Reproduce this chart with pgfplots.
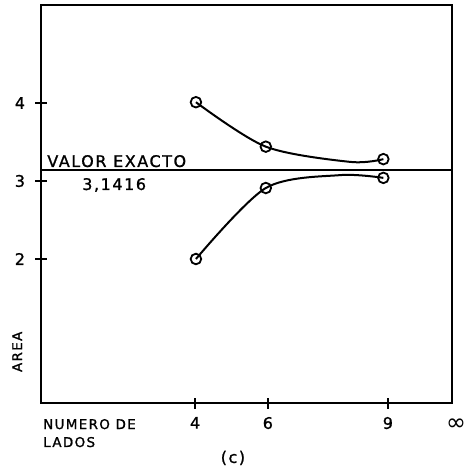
\documentclass[border=0pt]{standalone}
\usepackage{fontspec}
\setmainfont{DejaVu Sans}
\newfontfamily\lett[LetterSpace=10,FakeBold=1.2]{DejaVu Sans}
\usepackage{pgfplots}
\pgfplotsset{compat=1.18}
\usetikzlibrary{calc}

\newcommand\lab{\lett\fontsize{16}{18}\selectfont}
\newcommand\sml{\lett\fontsize{13.5}{15}\selectfont}

\begin{document}
\begin{tikzpicture}
% x positions follow the hand-drawn scale: 4, 6, 9 and infinity at the right edge
\begin{axis}[
    scale only axis,
    width=411bp,
    height=398bp,
    xmin=0, xmax=10,
    ymin=0.154, ymax=5.256,
    axis line style={line width=1.8bp},
    xtick={3.75,5.52,8.44},
    xticklabels={4,6,9},
    ytick={2,3,4},
    xtick pos=bottom,
    ytick pos=left,
    tick align=center,
    major tick length=11bp,
    tick style={line width=1.4bp, black},
    ticklabel style={font=\lab},
    /pgf/number format/assume math mode=true,
    xticklabel style={yshift=-5bp},
    yticklabel style={xshift=-7bp},
    clip=false,
]
% valor exacto
\addplot[line width=1.4bp, no markers] coordinates {(0,3.1416) (10,3.1416)};

% poligonos circunscritos
\addplot[line width=2bp, smooth, no markers] coordinates {
    (3.77,4.01) (5.47,3.44) (7.52,3.245) (8.33,3.28)
};
\addplot[only marks, mark=o, mark size=5.3bp,
    mark options={line width=1.8bp, fill=white}] coordinates {
    (3.77,4.01) (5.47,3.44) (8.33,3.28)
};

% poligonos inscritos
\addplot[line width=2bp, smooth, no markers] coordinates {
    (3.77,2.00) (5.47,2.91) (7.27,3.075) (8.33,3.04)
};
\addplot[only marks, mark=o, mark size=5.3bp,
    mark options={line width=1.8bp, fill=white}] coordinates {
    (3.77,2.00) (5.47,2.91) (8.33,3.04)
};

\node[anchor=base west, font=\lab, inner sep=0] at (axis cs:0.15,3.18) {VALOR EXACTO};
\node[anchor=base west, font=\lab, inner sep=0] at (axis cs:1.0,2.885) {3,1416};
\node[rotate=90, font=\sml, inner sep=0] at (axis cs:-0.58,0.81) {AREA};
\node[anchor=base west, font=\sml, inner sep=0] at (axis cs:0.05,-0.18) {NUMERO DE};
\node[anchor=base west, font=\sml, inner sep=0] at (axis cs:0.05,-0.41) {LADOS};
\node[font=\lab, inner sep=0] at (axis cs:4.67,-0.55) {(c)};
\node[font=\fontsize{24}{24}\selectfont, inner sep=0] at (axis cs:10.1,-0.13) {∞};

\coordinate (bl) at (rel axis cs:0,0);
\coordinate (tr) at (rel axis cs:1,1);
\end{axis}
\pgfresetboundingbox
\path[use as bounding box] ($(bl)+(-41bp,-68bp)$) rectangle ($(tr)+(20bp,5bp)$);
\end{tikzpicture}
\end{document}
